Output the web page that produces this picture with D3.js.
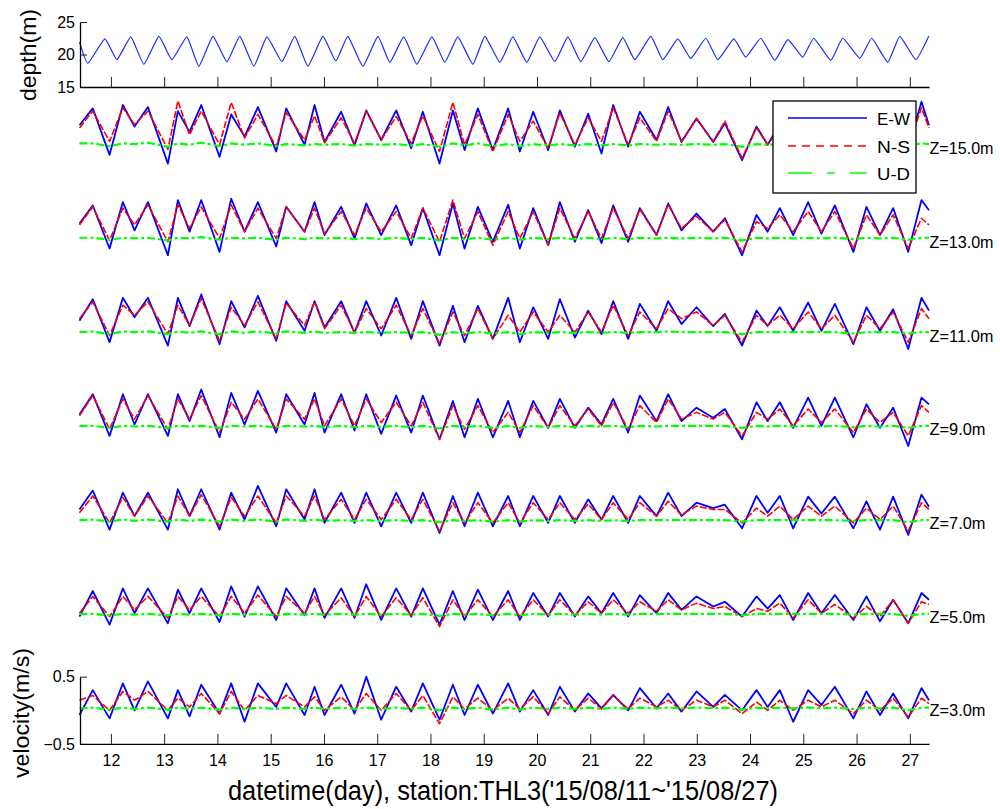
<!DOCTYPE html>
<html>
<head>
<meta charset="utf-8">
<script src="https://cdn.jsdelivr.net/npm/d3@7/dist/d3.min.js"></script>
<style>
  html, body { margin: 0; padding: 0; background: #fff; }
  svg { display: block; font-family: "Liberation Sans", Arial, sans-serif; }
</style>
</head>
<body>
<svg id="chart" width="1000" height="809"></svg>
<script>
// ---------------- DATA ----------------
const xTicks = [12,13,14,15,16,17,18,19,20,21,22,23,24,25,26,27];
const depthTicks = [15, 20, 25];
const velTicks = [-0.5, 0.5];
const levelLabels = ["Z=15.0m","Z=13.0m","Z=11.0m","Z=9.0m","Z=7.0m","Z=5.0m","Z=3.0m"];
const seriesNames = ["E-W","N-S","U-D"];

// water depth: turning points (day, m)
const depthDays = [11.41,11.568,11.887,12.113,12.375,12.619,12.901,13.145,13.427,13.652,13.915,14.178,14.422,14.684,14.929,15.210,15.454,15.698,15.980,16.224,16.449,16.731,17.012,17.237,17.500,17.744,18.026,18.270,18.514,18.796,19.021,19.303,19.547,19.809,20.053,20.335,20.579,20.823,21.086,21.349,21.611,21.837,22.137,22.362,22.644,22.888,23.170,23.395,23.695,23.920,24.202,24.465,24.709,24.990,25.197,25.516,25.741,26.061,26.286,26.586,26.811,27.112,27.356];
const depthVals = [21.9,18.65,22.4,19.2,22.7,18.5,22.8,19.2,22.7,18.2,22.8,18.9,22.8,18.2,22.7,18.9,22.8,18.2,22.8,19.0,22.8,18.2,22.8,18.8,22.7,18.5,22.7,18.8,22.7,18.5,22.8,18.8,22.7,18.8,22.7,18.9,22.7,18.9,22.6,18.9,22.6,19.2,22.8,19.2,22.4,19.4,22.5,19.2,22.4,19.6,22.5,19.1,22.3,19.6,22.5,19.1,22.5,19.4,22.5,18.8,22.8,19.2,22.8];

// velocity: times of the tidal turning points (day)
const velDays = [11.41,11.66,11.975,12.225,12.444,12.695,13.070,13.258,13.477,13.696,14.040,14.259,14.510,14.760,15.104,15.292,15.636,15.824,16.011,16.324,16.574,16.794,17.075,17.357,17.638,17.857,18.170,18.421,18.640,18.890,19.171,19.459,19.678,19.929,20.210,20.429,20.711,20.961,21.211,21.431,21.712,21.931,22.244,22.463,22.713,22.995,23.308,23.527,23.850,24.121,24.330,24.559,24.810,25.091,25.340,25.592,25.940,26.186,26.440,26.687,26.970,27.219,27.36];

// Z=15 m
const ew15 = [0.34,0.59,-0.10,0.64,0.32,0.61,-0.23,0.55,0.24,0.64,-0.13,0.50,0.17,0.61,-0.05,0.59,0.05,0.64,0.09,0.54,0.04,0.56,0.12,0.56,0.00,0.54,-0.23,0.56,-0.03,0.59,-0.03,
              0.59,-0.05,0.54,-0.03,0.56,0.02,0.51,-0.08,0.64,0.02,0.54,0.12,0.61,0.09,0.44,0.09,0.37,-0.18,0.32,0.05,0.35,0.05,0.40,0.05,0.40,0.00,0.45,0.05,0.45,0.00,0.69,0.34];
const ns15 = [0.30,0.55,0.10,0.60,0.35,0.55,-0.02,0.70,0.20,0.55,0.05,0.68,0.15,0.50,0.02,0.53,0.12,0.48,0.08,0.45,0.07,0.55,0.12,0.47,0.07,0.48,-0.05,0.68,0.05,0.50,-0.05,
              0.50,0.10,0.40,0.00,0.52,0.05,0.45,0.10,0.60,0.05,0.45,0.10,0.55,0.10,0.44,0.10,0.40,-0.15,0.30,0.05,0.30,0.05,0.35,0.05,0.35,0.02,0.40,0.05,0.40,0.02,0.60,0.30];
const ud15 = [0.07,0.07,0.03,0.07,0.06,0.08,0.02,0.07,0.05,0.08,0.03,0.07,0.05,0.07,0.03,0.06,0.04,0.06,0.05,0.06,0.04,0.06,0.05,0.06,0.04,0.06,0.02,0.07,0.04,0.07,0.03,
              0.06,0.03,0.06,0.04,0.06,0.04,0.06,0.04,0.06,0.04,0.06,0.05,0.06,0.05,0.06,0.05,0.06,0.02,0.06,0.05,0.06,0.05,0.06,0.05,0.06,0.04,0.06,0.05,0.06,0.04,0.07,0.06];
// Z=13 m
const ew13 = [0.27,0.54,-0.10,0.59,0.17,0.59,-0.20,0.62,0.15,0.62,-0.15,0.64,0.15,0.59,-0.07,0.52,0.15,0.59,0.10,0.52,0.05,0.57,0.10,0.54,-0.05,0.50,-0.20,0.57,-0.10,0.52,0.00,
              0.55,-0.10,0.50,-0.05,0.59,0.00,0.47,-0.02,0.54,0.00,0.50,0.10,0.57,0.17,0.42,0.15,0.35,-0.20,0.40,0.15,0.50,0.10,0.59,0.12,0.54,-0.15,0.52,0.10,0.50,-0.15,0.62,0.47];
const ns13 = [0.25,0.52,0.02,0.50,0.25,0.55,0.00,0.55,0.20,0.52,0.05,0.55,0.15,0.50,0.05,0.52,0.15,0.50,0.12,0.45,0.10,0.50,0.15,0.45,0.05,0.50,0.00,0.62,0.05,0.45,-0.05,
              0.45,0.05,0.45,-0.05,0.50,0.05,0.45,0.05,0.50,0.05,0.48,0.10,0.55,0.20,0.38,0.15,0.33,-0.15,0.30,0.20,0.40,0.15,0.45,0.15,0.45,-0.10,0.40,0.10,0.40,-0.10,0.35,0.25];
const ud13 = [0.06,0.06,0.03,0.06,0.05,0.06,0.02,0.06,0.05,0.07,0.03,0.06,0.05,0.06,0.03,0.06,0.04,0.06,0.05,0.06,0.04,0.06,0.04,0.06,0.04,0.06,0.02,0.06,0.04,0.06,0.03,
              0.06,0.03,0.06,0.04,0.06,0.04,0.06,0.04,0.06,0.04,0.06,0.05,0.06,0.05,0.06,0.05,0.06,0.02,0.06,0.05,0.06,0.05,0.06,0.05,0.06,0.04,0.06,0.05,0.06,0.03,0.06,0.06];
// Z=11 m
const ew11 = [0.22,0.54,-0.10,0.56,0.27,0.56,-0.15,0.56,0.14,0.61,-0.13,0.51,0.12,0.59,-0.08,0.51,0.07,0.51,0.12,0.51,0.04,0.51,0.00,0.56,-0.05,0.51,-0.15,0.44,-0.10,0.44,-0.05,
              0.56,-0.10,0.42,-0.05,0.54,-0.03,0.37,0.02,0.51,-0.05,0.47,0.07,0.51,0.17,0.42,0.14,0.32,-0.15,0.37,0.14,0.42,0.07,0.49,0.07,0.47,-0.13,0.42,0.07,0.39,-0.20,0.56,0.37];
const ns11 = [0.25,0.50,0.00,0.45,0.30,0.50,0.02,0.45,0.15,0.55,-0.08,0.42,0.15,0.50,-0.05,0.48,0.15,0.50,0.10,0.45,0.05,0.40,0.10,0.45,0.00,0.40,-0.12,0.35,0.00,0.40,-0.05,
              0.30,0.05,0.35,0.05,0.30,0.05,0.35,0.05,0.45,0.00,0.35,0.10,0.40,0.25,0.35,0.15,0.30,-0.10,0.30,0.15,0.30,0.10,0.35,0.10,0.30,-0.10,0.30,0.10,0.35,-0.10,0.40,0.25];
const ud11 = [0.05,0.06,0.02,0.06,0.05,0.06,0.02,0.06,0.04,0.06,0.02,0.06,0.04,0.06,0.03,0.06,0.04,0.06,0.04,0.05,0.04,0.05,0.04,0.05,0.04,0.05,0.01,0.05,0.03,0.05,0.03,
              0.05,0.02,0.05,0.04,0.05,0.04,0.05,0.04,0.05,0.04,0.05,0.05,0.06,0.05,0.05,0.05,0.05,0.02,0.05,0.05,0.05,0.05,0.05,0.05,0.05,0.03,0.05,0.05,0.05,0.03,0.05,0.05];
// Z=9 m
const ew9 = [0.22,0.52,-0.10,0.52,0.07,0.52,-0.10,0.52,0.12,0.59,-0.12,0.54,0.07,0.57,-0.05,0.52,0.07,0.54,-0.05,0.52,-0.02,0.52,-0.07,0.50,-0.05,0.50,-0.15,0.42,-0.12,0.45,-0.12,
             0.42,-0.12,0.42,0.02,0.45,0.02,0.32,0.07,0.45,-0.05,0.50,0.12,0.52,0.12,0.32,0.17,0.30,-0.15,0.40,0.12,0.40,0.02,0.47,0.05,0.47,-0.12,0.37,0.02,0.32,-0.25,0.47,0.37];
const ns9 = [0.20,0.50,0.00,0.45,0.15,0.50,0.00,0.45,0.15,0.50,-0.05,0.40,0.15,0.45,0.00,0.45,0.15,0.45,0.05,0.45,0.05,0.45,0.10,0.40,0.05,0.40,-0.15,0.35,0.00,0.35,-0.05,
             0.25,-0.05,0.35,0.02,0.35,0.05,0.30,0.05,0.40,0.00,0.35,0.10,0.45,0.15,0.25,0.15,0.25,-0.10,0.25,0.15,0.30,0.05,0.30,0.10,0.30,-0.05,0.30,0.10,0.25,-0.10,0.35,0.25];
const ud9 = [0.05,0.05,0.02,0.05,0.04,0.05,0.02,0.05,0.04,0.05,0.02,0.05,0.04,0.05,0.03,0.05,0.04,0.05,0.03,0.05,0.03,0.05,0.03,0.05,0.03,0.05,0.01,0.05,0.03,0.05,0.02,
             0.05,0.02,0.05,0.03,0.05,0.03,0.05,0.04,0.05,0.03,0.05,0.04,0.05,0.05,0.05,0.05,0.05,0.02,0.05,0.04,0.05,0.04,0.05,0.04,0.05,0.03,0.05,0.04,0.05,0.02,0.05,0.05];
// Z=7 m
const ew7 = [0.20,0.48,-0.10,0.45,0.10,0.45,-0.10,0.50,0.10,0.50,-0.10,0.45,0.05,0.55,-0.05,0.50,0.05,0.50,0.00,0.45,0.00,0.45,-0.05,0.45,0.00,0.45,-0.15,0.40,-0.05,0.45,-0.05,
             0.40,-0.05,0.40,0.00,0.40,0.00,0.35,0.05,0.40,0.00,0.40,0.10,0.45,0.10,0.30,0.22,0.27,-0.08,0.40,0.15,0.40,-0.08,0.39,0.14,0.39,-0.08,0.32,-0.10,0.39,-0.18,0.42,0.24];
const ns7 = [0.15,0.40,0.00,0.38,0.10,0.40,0.00,0.40,0.10,0.42,-0.05,0.38,0.10,0.40,0.00,0.40,0.10,0.40,0.05,0.35,0.05,0.35,0.05,0.35,0.05,0.35,-0.12,0.30,0.00,0.30,0.00,
             0.30,0.00,0.30,0.05,0.30,0.05,0.28,0.05,0.30,0.05,0.30,0.10,0.32,0.12,0.25,0.20,0.20,0.00,0.22,0.10,0.25,0.05,0.25,0.10,0.25,0.00,0.22,0.05,0.25,-0.12,0.30,0.20];
const ud7 = [0.04,0.05,0.02,0.05,0.03,0.05,0.02,0.05,0.03,0.05,0.02,0.05,0.03,0.05,0.02,0.05,0.03,0.05,0.03,0.04,0.03,0.04,0.03,0.04,0.03,0.04,0.01,0.04,0.03,0.04,0.02,
             0.04,0.02,0.04,0.03,0.04,0.03,0.04,0.03,0.04,0.03,0.04,0.04,0.04,0.04,0.04,0.04,0.04,0.02,0.04,0.04,0.04,0.04,0.04,0.04,0.04,0.03,0.04,0.04,0.04,0.01,0.04,0.04];
// Z=5 m
const ew5 = [0.00,0.38,-0.12,0.42,0.05,0.42,-0.10,0.40,0.05,0.42,-0.08,0.45,0.00,0.45,-0.05,0.42,0.02,0.42,-0.02,0.42,-0.02,0.48,-0.05,0.42,0.00,0.42,-0.12,0.38,-0.05,0.40,-0.05,
             0.38,-0.05,0.35,0.00,0.35,0.00,0.30,0.05,0.35,0.00,0.32,0.05,0.35,0.10,0.30,0.15,0.22,0.00,0.30,0.12,0.32,-0.05,0.35,0.05,0.32,-0.05,0.30,-0.07,0.25,-0.10,0.35,0.25];
const ns5 = [0.05,0.30,0.00,0.30,0.10,0.30,-0.02,0.30,0.10,0.30,0.00,0.30,0.05,0.32,0.00,0.30,0.05,0.30,0.02,0.28,0.00,0.30,0.00,0.28,0.02,0.28,-0.15,0.25,0.00,0.25,0.00,
             0.25,0.00,0.25,0.02,0.25,0.02,0.22,0.05,0.25,0.05,0.22,0.08,0.25,0.10,0.20,0.12,0.15,0.00,0.12,0.08,0.20,-0.02,0.25,0.05,0.18,-0.02,0.15,0.00,0.25,-0.10,0.22,0.18];
const ud5 = [0.04,0.04,0.02,0.04,0.03,0.04,0.02,0.04,0.03,0.04,0.02,0.04,0.03,0.04,0.02,0.04,0.03,0.04,0.03,0.04,0.03,0.04,0.03,0.04,0.03,0.04,0.01,0.04,0.03,0.04,0.02,
             0.04,0.02,0.04,0.03,0.04,0.03,0.04,0.03,0.04,0.03,0.04,0.04,0.04,0.04,0.04,0.04,0.04,0.02,0.04,0.04,0.04,0.04,0.04,0.04,0.04,0.03,0.04,0.04,0.04,0.01,0.04,0.04];
// Z=3 m
const ew3 = [-0.07,0.30,-0.12,0.40,0.00,0.43,-0.12,0.30,-0.09,0.38,-0.05,0.40,-0.17,0.40,0.05,0.40,-0.07,0.35,-0.07,
             0.38,-0.05,0.50,-0.14,0.35,-0.02,0.40,-0.14,0.38,-0.07,0.38,-0.05,0.40,-0.02,0.30,-0.07,0.35,-0.02,0.25,0.03,0.23,0.00,0.33,0.03,
             0.25,-0.02,0.28,0.05,0.23,0.00,0.30,0.05,0.30,-0.17,0.30,0.08,0.35,-0.12,0.28,-0.07,0.25,-0.12,0.33,0.15];
const ns3 = [0.15,0.22,0.00,0.28,0.15,0.28,0.00,0.18,0.05,0.25,-0.05,0.28,0.00,0.22,0.10,0.22,0.05,0.20,0.00,
             0.20,0.00,0.25,0.00,0.25,0.00,0.22,-0.20,0.20,0.02,0.18,0.00,0.18,0.02,0.20,-0.05,0.20,0.00,0.18,0.02,0.22,0.02,0.18,0.05,
             0.15,0.00,0.15,0.05,0.15,-0.05,0.12,0.00,0.15,0.00,0.15,0.05,0.15,-0.05,0.15,0.00,0.18,-0.10,0.18,0.10];
const ud3 = [0.03,0.04,0.01,0.04,0.02,0.04,0.01,0.04,0.02,0.04,0.01,0.04,0.02,0.04,0.02,0.04,0.02,0.04,0.02,0.04,0.02,0.04,0.02,0.04,0.02,0.04,0.00,0.04,0.02,0.04,0.01,
             0.04,0.01,0.04,0.02,0.04,0.02,0.04,0.02,0.04,0.02,0.04,0.03,0.04,0.03,0.04,0.03,0.04,0.01,0.04,0.03,0.04,0.03,0.04,0.03,0.04,0.02,0.04,0.03,0.04,0.00,0.04,0.04];

// ---------------- DRAW ----------------
const panels = [
  {label: levelLabels[0], ew: ew15, ns: ns15, ud: ud15},
  {label: levelLabels[1], ew: ew13, ns: ns13, ud: ud13},
  {label: levelLabels[2], ew: ew11, ns: ns11, ud: ud11},
  {label: levelLabels[3], ew: ew9,  ns: ns9,  ud: ud9},
  {label: levelLabels[4], ew: ew7,  ns: ns7,  ud: ud7},
  {label: levelLabels[5], ew: ew5,  ns: ns5,  ud: ud5},
  {label: levelLabels[6], ew: ew3,  ns: ns3,  ud: ud3}
];
panels.forEach(p => ["ew","ns","ud"].forEach(k => {
  if (p[k].length !== velDays.length) console.error(p.label, k, p[k].length);
}));

const svg = d3.select("#chart");
svg.append("rect").attr("width", 1000).attr("height", 809).attr("fill", "#fff");

const FONT = "'Liberation Sans', Arial, sans-serif";
const left = 80, right = 929;
const x = d3.scaleLinear().domain([11.42, 27.36]).range([left, right]);

const colors = {ew: "#0000ff", ns: "#ff0000", ud: "#00ff00"};
const dashes = {ew: null, ns: "7,2", ud: "8,3,3,3"};
const widths = {ew: 1.8, ns: 1.6, ud: 2.2};

// ---- depth panel ----
const yD = d3.scaleLinear().domain([15, 25]).range([87, 22]);
svg.append("path")
  .datum(depthDays.map((d, i) => [d, depthVals[i]]))
  .attr("fill", "none").attr("stroke", "#1a2cff").attr("stroke-width", 1.2)
  .attr("d", d3.line().curve(d3.curveCardinal.tension(0.6)).x(d => x(d[0])).y(d => yD(d[1])));

svg.append("g").attr("transform", `translate(${left},0)`)
  .call(d3.axisLeft(yD).tickValues(depthTicks).tickFormat(d3.format("d"))
        .tickSizeInner(-7).tickSizeOuter(0).tickPadding(5));
svg.append("g").attr("transform", `translate(0,${yD(15)})`)
  .call(d3.axisBottom(x).tickValues(xTicks).tickFormat("")
        .tickSizeInner(-10).tickSizeOuter(0));

// ---- velocity panels ----
const pxPerUnit = 67.3, z0 = 148.1, step = 93.7;
let yBottom = null;
panels.forEach((p, i) => {
  const zero = z0 + step * i;
  const y = d3.scaleLinear().domain([-0.5, 0.5]).range([zero + pxPerUnit / 2, zero - pxPerUnit / 2]);
  if (i === panels.length - 1) yBottom = y;
  const g = svg.append("g");
  ["ew", "ns", "ud"].forEach(k => {
    g.append("path")
      .datum(velDays.map((d, j) => [d, p[k][j]]))
      .attr("fill", "none")
      .attr("stroke", colors[k])
      .attr("stroke-width", widths[k])
      .attr("stroke-linejoin", "round")
      .attr("stroke-dasharray", dashes[k])
      .attr("d", d3.line().x(d => x(d[0])).y(d => y(d[1])));
  });
  svg.append("text")
    .attr("x", right + 0.5).attr("y", zero + 6)
    .attr("font-family", FONT).attr("font-size", 17)
    .attr("textLength", p.label.length === 7 ? 64 : 56).attr("lengthAdjust", "spacingAndGlyphs")
    .attr("fill", "#000").text(p.label);
});

// bottom axes
svg.append("g").attr("transform", `translate(${left},0)`)
  .call(d3.axisLeft(yBottom).tickValues(velTicks).tickFormat(d3.format(".1f"))
        .tickSizeInner(-7).tickSizeOuter(0).tickPadding(5));
svg.append("g").attr("transform", `translate(0,${yBottom(-0.5)})`)
  .call(d3.axisBottom(x).tickValues(xTicks).tickFormat(d3.format("d"))
        .tickSizeInner(-10).tickSizeOuter(0).tickPadding(11));

svg.selectAll(".tick text").attr("font-family", FONT).attr("font-size", 16).attr("fill", "#000");
svg.selectAll(".domain").attr("stroke", "#000").attr("stroke-width", 1.3);
svg.selectAll(".tick line").attr("stroke", "#222").attr("stroke-width", 1);

// axis titles
svg.append("text").attr("transform", "translate(36,55) rotate(-90)")
  .attr("text-anchor", "middle").attr("font-family", FONT).attr("font-size", 22)
  .attr("textLength", 92).attr("lengthAdjust", "spacingAndGlyphs").text("depth(m)");
svg.append("text").attr("transform", "translate(29,713) rotate(-90)")
  .attr("text-anchor", "middle").attr("font-family", FONT).attr("font-size", 22)
  .attr("textLength", 130).attr("lengthAdjust", "spacingAndGlyphs").text("velocity(m/s)");
svg.append("text").attr("x", 503).attr("y", 800)
  .attr("text-anchor", "middle").attr("font-family", FONT).attr("font-size", 27)
  .attr("textLength", 550).attr("lengthAdjust", "spacingAndGlyphs")
  .text("datetime(day), station:THL3('15/08/11~'15/08/27)");

// ---- legend ----
const lg = svg.append("g");
lg.append("rect").attr("x", 773).attr("y", 101).attr("width", 143).attr("height", 92)
  .attr("fill", "#fff").attr("stroke", "#000").attr("stroke-width", 1.3);
const lgKeys = ["ew", "ns", "ud"];
const lgDash = {ew: null, ns: "8,6", ud: "24,15,8,15"};
const lgY = [118, 146, 173];
lgKeys.forEach((k, i) => {
  const ly = lgY[i];
  lg.append("line").attr("x1", 788).attr("x2", 867).attr("y1", ly).attr("y2", ly)
    .style("stroke", colors[k]).attr("stroke-width", 1.5).attr("stroke-dasharray", lgDash[k]);
  lg.append("text").attr("x", 877).attr("y", ly + 6.5)
    .attr("font-family", FONT).attr("font-size", 17)
    .attr("textLength", 33).attr("lengthAdjust", "spacingAndGlyphs")
    .text(seriesNames[i]);
});
</script>
</body>
</html>
